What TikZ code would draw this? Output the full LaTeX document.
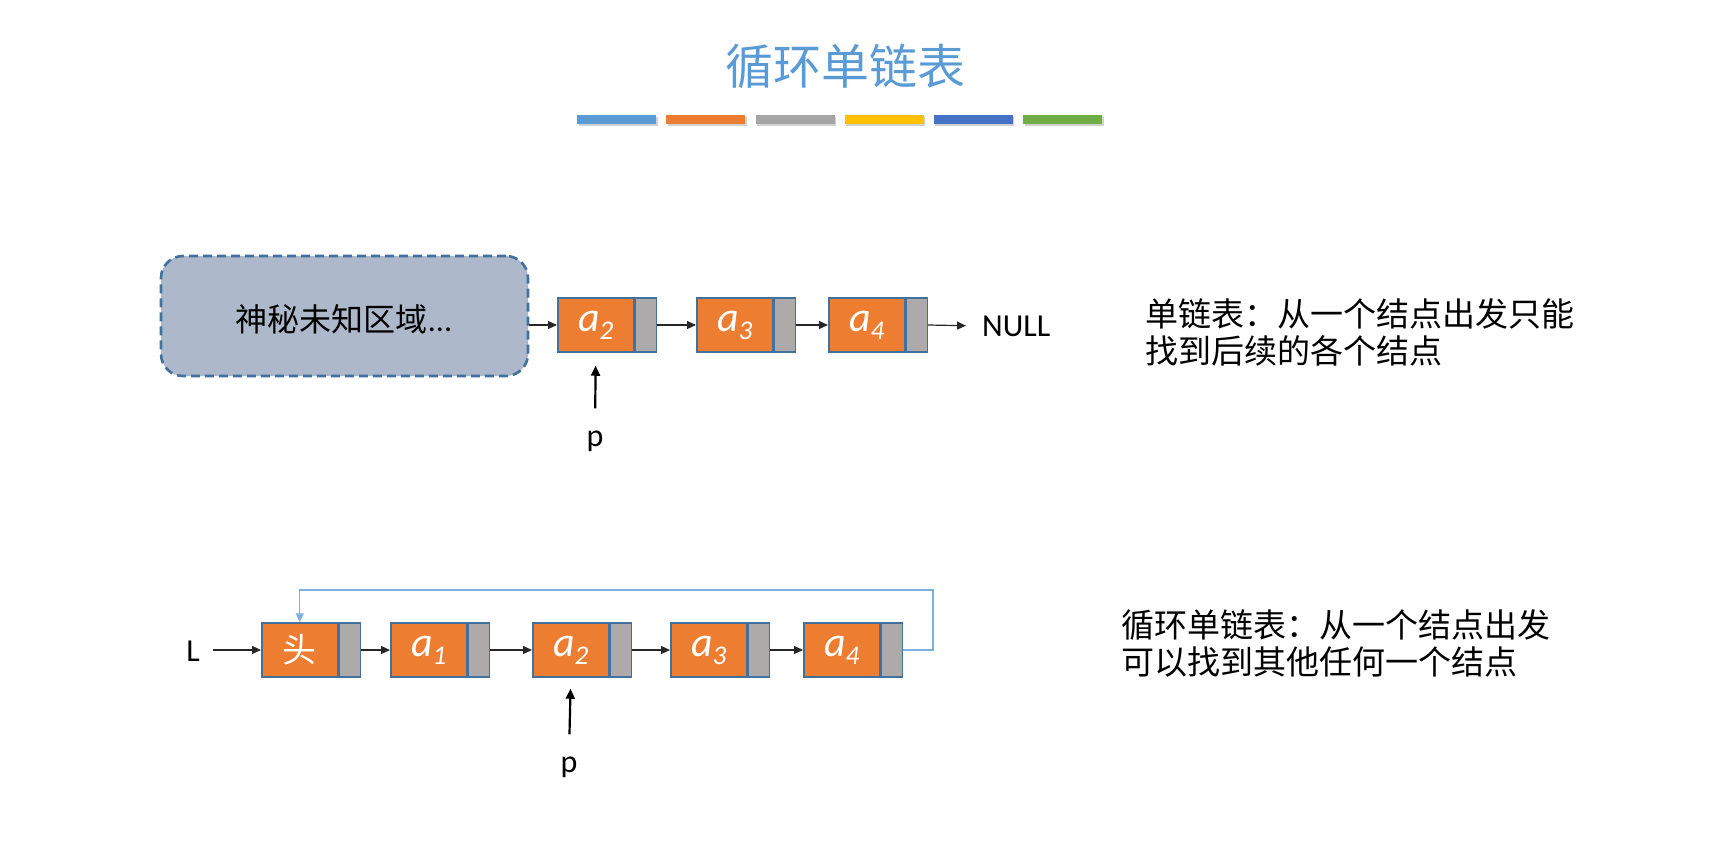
\documentclass[tikz,border=0pt]{standalone}
\usepackage{fontspec}
\setmainfont{Carlito}
\newfontfamily\cjk{Noto Sans CJK SC}
\usetikzlibrary{arrows.meta}
\definecolor{nodeorange}{HTML}{ED7D31}
\definecolor{nodegray}{HTML}{AEAAAA}
\definecolor{nodeborder}{HTML}{41719C}
\definecolor{boxfill}{HTML}{ADB9CA}
\definecolor{titleblue}{HTML}{5B9BD5}
\definecolor{loopblue}{HTML}{7EB0E0}
\definecolor{barA}{HTML}{5B9BD5}
\definecolor{barB}{HTML}{ED7D31}
\definecolor{barC}{HTML}{A5A5A5}
\definecolor{barD}{HTML}{FFC000}
\definecolor{barE}{HTML}{4472C4}
\definecolor{barF}{HTML}{70AD47}
\newcommand\elemlabel[1]{{\fontsize{42}{44}\selectfont\itshape a}\raisebox{-8pt}{\fontsize{27}{29}\selectfont\itshape #1}}
\begin{document}
\begin{tikzpicture}[x=1pt,y=-1pt,
  datab/.style={draw=nodeborder, line width=1.5pt, fill=nodeorange, minimum width=76pt, minimum height=54pt, inner sep=0pt, anchor=west, text=white},
  ptrb/.style={draw=nodeborder, line width=1.5pt, fill=nodegray, minimum width=21pt, minimum height=54pt, inner sep=0pt, anchor=west},
  link/.style={-{Triangle[length=9pt,width=8pt]}, line width=1.2pt, black!85},
  parrow/.style={-{Triangle[length=10pt,width=9pt]}, line width=2.2pt, black},
  looplink/.style={-{Triangle[length=9pt,width=8pt]}, line width=1.1pt, loopblue},
  lbl/.style={inner sep=0pt, font=\fontsize{32}{36}\selectfont},
  cjktext/.style={inner sep=0pt, align=left, font=\cjk\fontsize{33}{36.5}\selectfont},
  mysterybox/.style={draw=nodeborder, line width=2.6pt, dash pattern=on 9pt off 5pt, fill=boxfill, rounded corners=22pt, minimum width=367pt, minimum height=120pt, inner sep=0pt},
  bar/.style={minimum width=79pt, minimum height=9pt, inner sep=0pt, anchor=north west}
]
\useasboundingbox (0,0) rectangle (1720,840);

% title
\node[inner sep=0pt, text=titleblue, font=\cjk\fontsize{48}{52}\selectfont] (title) at (845,66) {循环单链表};
% colour bars
\foreach \c [count=\i from 0] in {barA,barB,barC,barD,barE,barF}{
  \fill[black!18] (577+\i*89.2+1.5,115+2.5) rectangle ++(79,9);
  \node[bar, fill=\c] (bar\i) at (577+\i*89.2,115) {};
}

% ---------- top: singly linked list ----------
\node[mysterybox] (box) at (344.5,316) {};
\node[inner sep=0pt, font=\fontsize{32}{36}\selectfont] (boxtext) at (344,319) {{\cjk 神秘未知区域}...};

\node[datab] (t2d) at (557,325) {\elemlabel{2}};
\node[ptrb] (t2p) at (t2d.east) {};
\node[datab] (t3d) at (696,325) {\elemlabel{3}};
\node[ptrb] (t3p) at (t3d.east) {};
\node[datab] (t4d) at (828,325) {\elemlabel{4}};
\node[ptrb] (t4p) at (t4d.east) {};
\node[lbl, anchor=west] (null) at (982,326) {NULL};
\node[lbl] (tp) at (595,441) {p};

\draw[link] (t2d.west -| box.east) -- (t2d.west);
\draw[link] (t2p.east) -- (t3d.west);
\draw[link] (t3p.east) -- (t4d.west);
\draw[link, shorten >=16pt] (t4p.east) -- (null.west);
\draw[parrow, shorten <=22pt, shorten >=13pt] (tp.north) -- (t2d.south);

\node[cjktext, anchor=west] (note1) at (1145,332.5) {单链表：从一个结点出发只能\\找到后续的各个结点};

% ---------- bottom: circular linked list ----------
\node[datab, font=\cjk\fontsize{34}{38}\selectfont] (hd) at (261,650) {头};
\node[ptrb] (hp) at (hd.east) {};
\node[datab] (b1d) at (390,650) {\elemlabel{1}};
\node[ptrb] (b1p) at (b1d.east) {};
\node[datab] (b2d) at (532,650) {\elemlabel{2}};
\node[ptrb] (b2p) at (b2d.east) {};
\node[datab] (b3d) at (670,650) {\elemlabel{3}};
\node[ptrb] (b3p) at (b3d.east) {};
\node[datab] (b4d) at (803,650) {\elemlabel{4}};
\node[ptrb] (b4p) at (b4d.east) {};

\node[lbl] (L) at (193,651) {L};
\node[lbl] (bp) at (569,767) {p};
\coordinate (loopR) at (933,590);

\draw[link, shorten <=13pt] (L.east |- hd.west) -- (hd.west);
\draw[link] (hp.east) -- (b1d.west);
\draw[link] (b1p.east) -- (b2d.west);
\draw[link] (b2p.east) -- (b3d.west);
\draw[link] (b3p.east) -- (b4d.west);
\draw[looplink] (b4p.east) -| (loopR) -| (hd.north);
\draw[parrow, shorten <=22pt, shorten >=11pt] (bp.north) -- (b2d.south);

\node[cjktext, anchor=west] (note2) at (1121,643.5) {循环单链表：从一个结点出发\\可以找到其他任何一个结点};
\end{tikzpicture}
\end{document}
